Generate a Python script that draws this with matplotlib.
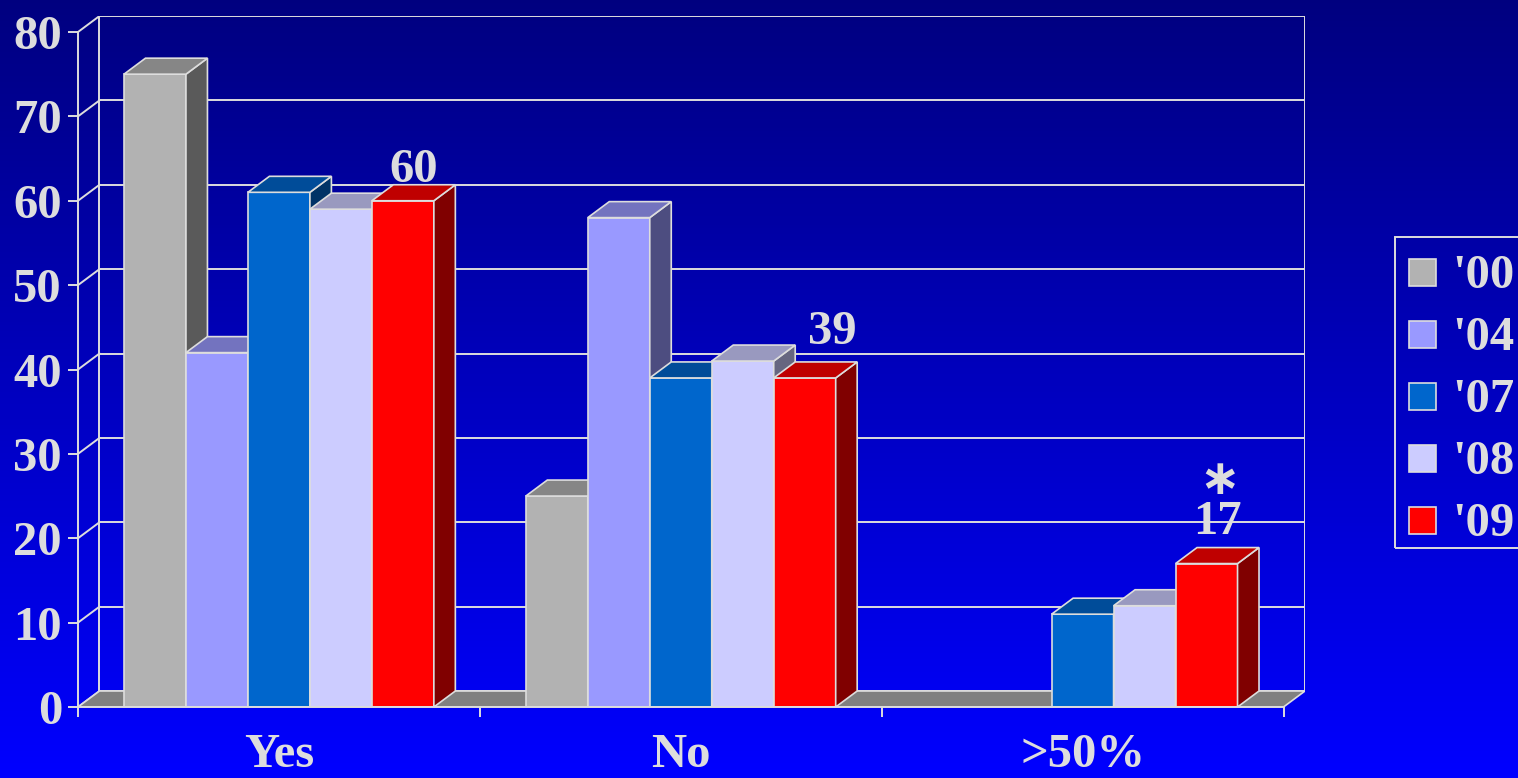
import numpy as np
import matplotlib.pyplot as plt
from matplotlib.patches import Polygon, Rectangle

plt.rcParams['font.family'] = ['Liberation Serif', 'DejaVu Serif']
plt.rcParams['font.weight'] = 'bold'

# data
categories = ['Yes', 'No', '>50%']
years = ["'00", "'04", "'07", "'08", "'09"]
v00 = [75, 25, 0]
v04 = [42, 58, 0]
v07 = [61, 39, 11]
v08 = [59, 41, 12]
v09 = [60, 39, 17]
series = [v00, v04, v07, v08, v09]

front_colors = ['#B2B2B2', '#9999FF', '#0066CC', '#CCCCFF', '#FF0000']
top_colors = ['#868686', '#7373BF', '#004C99', '#9999BF', '#BF0000']
side_colors = ['#5A5A5A', '#4D4D80', '#003366', '#666680', '#800000']

# labels on the '09 bars: text, category, x offset / y offset (pt)
lab_text = ['60', '39', '$\\ast$\n17']
lab_cat = [0, 1, 2]
lab_dx = [0, 12, 0]
lab_dy = [2, 13, 10]

W, H = 1518, 778
LC = '#DDDDDD'
FS = 35
DX = 21.5 / 402      # depth offset in category units
DY = 16 / 8.4375     # depth offset in value units
BW = 62 / 402        # bar width
GAP = 46 / 402       # space before first bar in a category

fig = plt.figure(figsize=(W / 100, H / 100), dpi=100)

# background gradient
bg = fig.add_axes([0, 0, 1, 1], zorder=-10)
grad = np.linspace(0, 1, 256)
rgb = np.zeros((256, 1, 3))
rgb[:, 0, 2] = 0.5 + 0.5 * grad
bg.imshow(rgb, aspect='auto', extent=[0, 1, 1, 0])
bg.set_xlim(0, 1)
bg.set_ylim(1, 0)
bg.axis('off')

ax = fig.add_axes([78 / W, 71 / H, 1227 / W, 691 / H])
ax.set_facecolor('none')
ax.set_xlim(0, 3 + DX)
ax.set_ylim(0, 80 + DY)

# back wall grid + left wall
for v in range(0, 90, 10):
    ax.plot([DX, 3 + DX], [v + DY, v + DY], color=LC, lw=1.4, zorder=1)
    ax.plot([0, DX], [v, v + DY], color=LC, lw=1.4, zorder=1)
ax.plot([DX, DX], [DY, 80 + DY], color=LC, lw=1.4, zorder=1)
ax.plot([3 + DX, 3 + DX], [DY, 80 + DY], color=LC, lw=1.4, zorder=1)

# floor
ax.add_patch(Polygon([(0, 0), (3, 0), (3 + DX, DY), (DX, DY)], closed=True,
                     facecolor='#808080', edgecolor=LC, lw=1.2, zorder=2))

# bars
for s, vals in enumerate(series):
    z = 3 + s * 0.1
    xs = [c + GAP + s * BW for c in range(3)]
    for x0, v in zip(xs, vals):
        if v == 0:
            continue
        ax.add_patch(Polygon([(x0 + BW, 0), (x0 + BW + DX, DY), (x0 + BW + DX, v + DY), (x0 + BW, v)],
                             closed=True, facecolor=side_colors[s], edgecolor=LC, lw=1.2, zorder=z + 0.01))
        ax.add_patch(Polygon([(x0, v), (x0 + BW, v), (x0 + BW + DX, v + DY), (x0 + DX, v + DY)],
                             closed=True, facecolor=top_colors[s], edgecolor=LC, lw=1.2, zorder=z + 0.02))
    hs = [v if v > 0 else np.nan for v in vals]
    ax.bar(xs, hs, width=BW, align='edge', color=front_colors[s], edgecolor=LC, lw=1.2, zorder=z)

# value labels on '09
for t, c, dx, dy in zip(lab_text, lab_cat, lab_dx, lab_dy):
    xc = c + GAP + 4 * BW + BW / 2 + DX / 2
    ax.annotate(t, xy=(xc, v09[c] + DY), xytext=(dx, dy), textcoords='offset points',
                ha='center', va='baseline', ma='center', fontsize=FS, color=LC,
                fontweight='bold', linespacing=0.88, math_fontfamily='dejavusans', zorder=10)

# axes
for sp in ['top', 'right']:
    ax.spines[sp].set_visible(False)
ax.spines['left'].set_bounds(0, 80)
ax.spines['bottom'].set_bounds(0, 3)
for sp in ['left', 'bottom']:
    ax.spines[sp].set_color(LC)
    ax.spines[sp].set_linewidth(1.4)
    ax.spines[sp].set_zorder(6)
ax.set_yticks(range(0, 90, 10))
ax.tick_params(axis='y', length=7.2, width=1.4, color=LC, pad=4.3,
               labelsize=FS, labelcolor=LC)
ax.set_xticks([0, 1, 2, 3], labels=['', '', '', ''])
ax.tick_params(axis='x', which='major', length=7.2, width=1.4, color=LC)
ax.set_xticks([0.5, 1.5, 2.5], labels=categories, minor=True)
ax.tick_params(axis='x', which='minor', length=0, pad=19, labelsize=FS, labelcolor=LC)
for lab in ax.get_yticklabels() + ax.get_xticklabels(minor=True):
    lab.set_fontweight('bold')

# legend
tf = fig.transFigure
fig.add_artist(Rectangle((1395 / W, 1 - 548 / H), 140 / W, 311 / H, transform=tf,
                         facecolor='none', edgecolor=LC, lw=1.4))
for i, (yr, col) in enumerate(zip(years, front_colors)):
    cy = 272.5 + 62 * i
    fig.add_artist(Rectangle((1409 / W, 1 - (cy + 13.5) / H), 27 / W, 27 / H, transform=tf,
                             facecolor=col, edgecolor=LC, lw=1.2))
    fig.text(1452 / W, 1 - (cy + 15.5) / H, yr, fontsize=FS, color=LC,
             fontweight='bold', va='baseline', ha='left')

fig.savefig('out.png', dpi=100)
